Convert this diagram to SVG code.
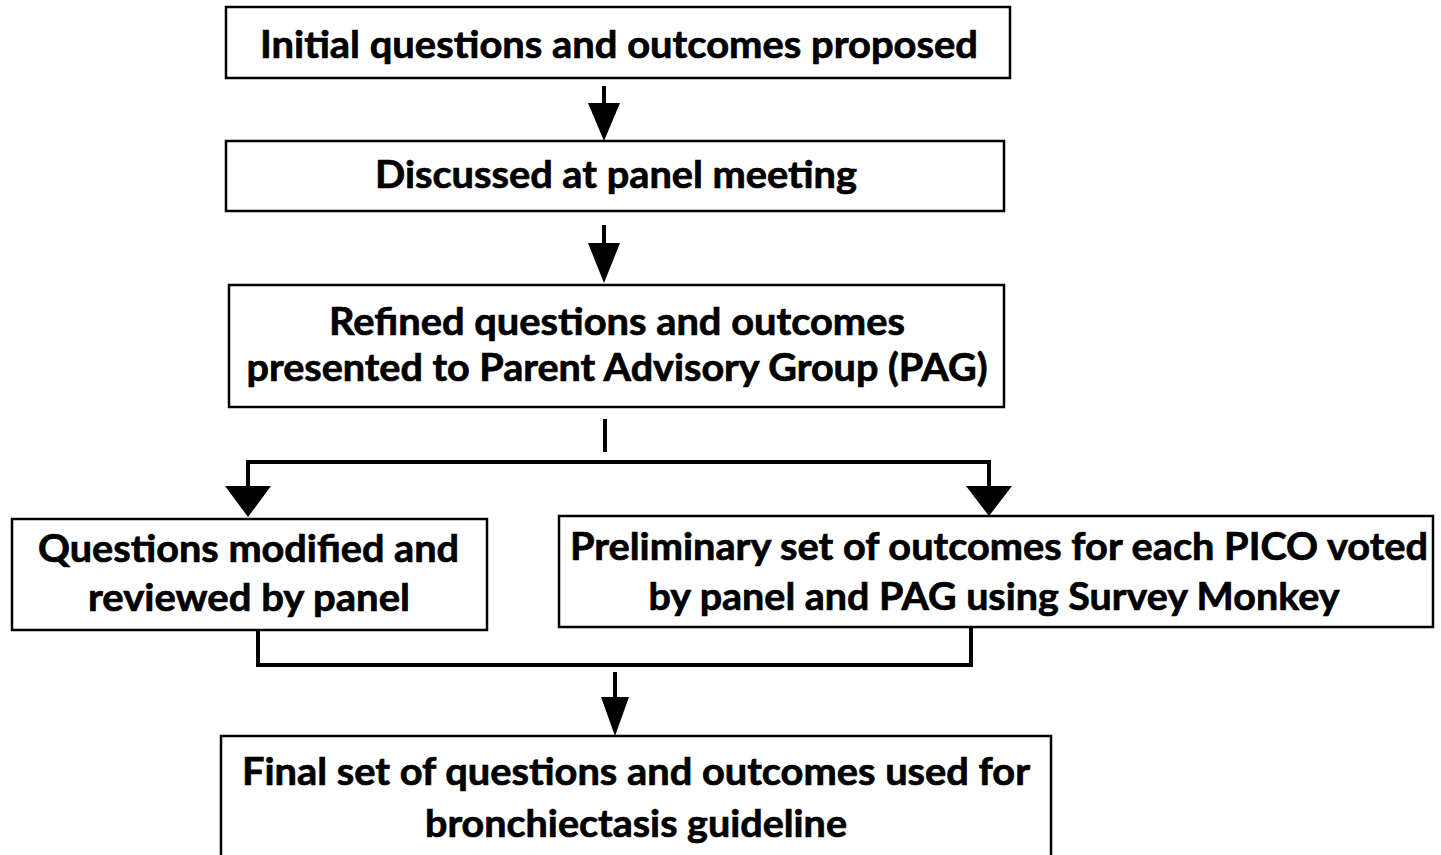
<svg xmlns="http://www.w3.org/2000/svg" width="1441" height="855" viewBox="0 0 1441 855">
<style>
.box{fill:#fff;stroke:#000;stroke-width:2.5}
.t{font-family:Lato,"Liberation Sans",sans-serif;font-weight:bold;font-size:38px;fill:#000;stroke:#000;stroke-width:0.7}
.ln{fill:none;stroke:#000;stroke-width:4;stroke-linejoin:miter}
.hd{fill:#000;stroke:none}
</style>
<rect width="1441" height="855" fill="#fff"/>
<g id="connectors">
<line class="ln" x1="604" y1="86" x2="604" y2="105"/>
<polygon class="hd" points="588,103 620,103 604,141"/>
<line class="ln" x1="604" y1="225" x2="604" y2="245"/>
<polygon class="hd" points="588,243 620,243 604,283"/>
<line class="ln" x1="605" y1="419" x2="605" y2="452"/>
<polyline class="ln" points="248,489 248,462 989,462 989,489"/>
<polygon class="hd" points="225,486 271,486 248,517"/>
<polygon class="hd" points="966,486 1012,486 989,516"/>
<polyline class="ln" points="258,631 258,665 971,665 971,628"/>
<line class="ln" x1="615" y1="672" x2="615" y2="700"/>
<polygon class="hd" points="601,697 629,697 615,736"/>
</g>
<g id="n1">
<rect class="box" x="226" y="7" width="784" height="71"/>
<text class="t" x="619" y="58" text-anchor="middle" textLength="718" lengthAdjust="spacingAndGlyphs">Initial questions and outcomes proposed</text>
</g>
<g id="n2">
<rect class="box" x="226" y="141" width="778" height="70"/>
<text class="t" x="616" y="188" text-anchor="middle" textLength="482" lengthAdjust="spacingAndGlyphs">Discussed at panel meeting</text>
</g>
<g id="n3">
<rect class="box" x="229" y="285" width="775" height="122"/>
<text class="t" x="617" y="335" text-anchor="middle" textLength="576" lengthAdjust="spacingAndGlyphs">Refined questions and outcomes</text>
<text class="t" x="617" y="381" text-anchor="middle" textLength="741" lengthAdjust="spacingAndGlyphs">presented to Parent Advisory Group (PAG)</text>
</g>
<g id="n4">
<rect class="box" x="12" y="519" width="475" height="111"/>
<text class="t" x="248.5" y="562" text-anchor="middle" textLength="421" lengthAdjust="spacingAndGlyphs">Questions modified and</text>
<text class="t" x="249" y="611" text-anchor="middle" textLength="322" lengthAdjust="spacingAndGlyphs">reviewed by panel</text>
</g>
<g id="n5">
<rect class="box" x="559" y="516" width="874" height="111"/>
<text class="t" x="999" y="560" text-anchor="middle" textLength="858" lengthAdjust="spacingAndGlyphs">Preliminary set of outcomes for each PICO voted</text>
<text class="t" x="994" y="610" text-anchor="middle" textLength="691" lengthAdjust="spacingAndGlyphs">by panel and PAG using Survey Monkey</text>
</g>
<g id="n6">
<rect class="box" x="221" y="736" width="830" height="130"/>
<text class="t" x="636" y="785" text-anchor="middle" textLength="788" lengthAdjust="spacingAndGlyphs">Final set of questions and outcomes used for</text>
<text class="t" x="636" y="837" text-anchor="middle" textLength="422" lengthAdjust="spacingAndGlyphs">bronchiectasis guideline</text>
</g>
</svg>
